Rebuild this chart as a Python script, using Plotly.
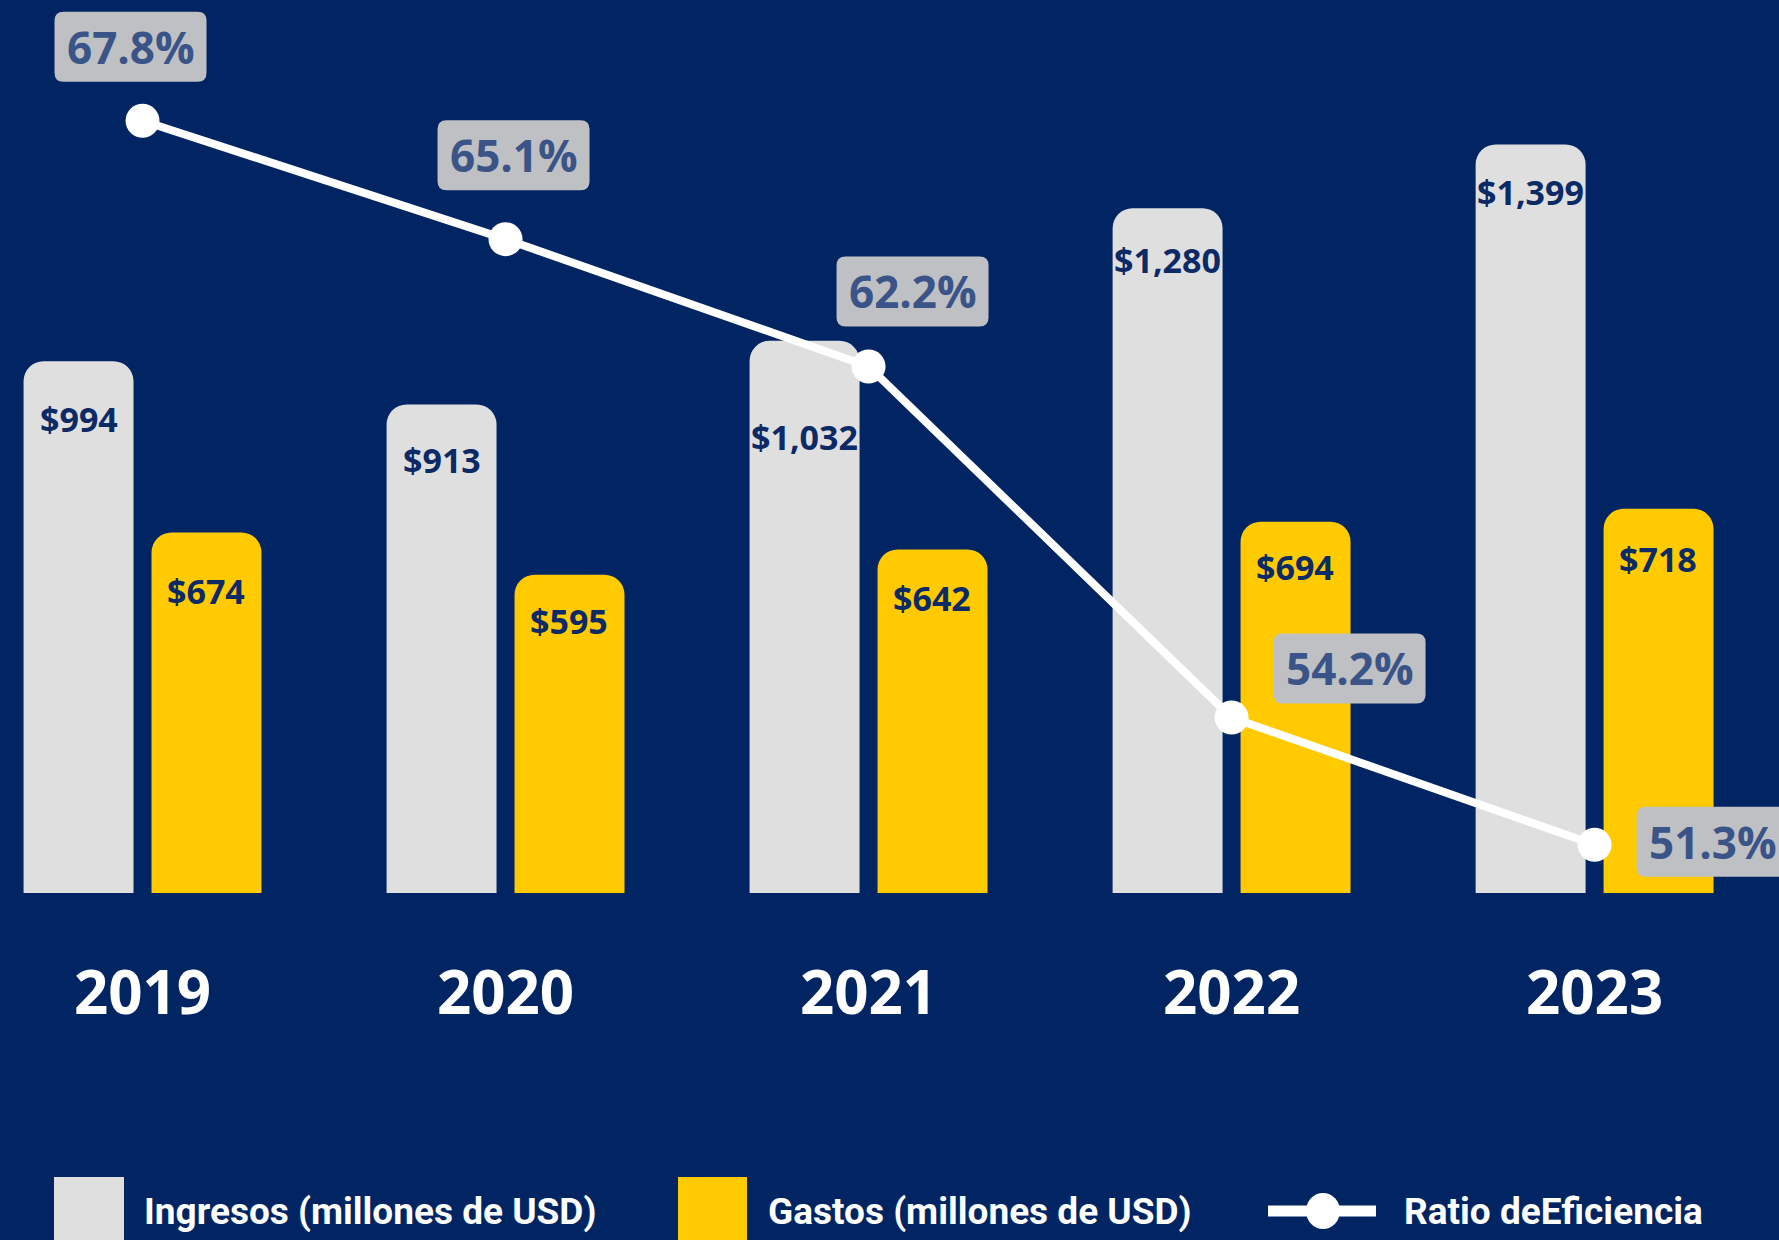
import plotly.graph_objects as go

# ---------------- data ----------------
years = ["2019", "2020", "2021", "2022", "2023"]
ingresos = [994, 913, 1032, 1280, 1399]
gastos = [674, 595, 642, 694, 718]
ratio = [67.8, 65.1, 62.2, 54.2, 51.3]

ingresos_labels = ["$994", "$913", "$1,032", "$1,280", "$1,399"]
gastos_labels = ["$674", "$595", "$642", "$694", "$718"]
ratio_labels = ["67.8%", "65.1%", "62.2%", "54.2%", "51.3%"]

legend_names = ["Ingresos (millones de USD)", "Gastos (millones de USD)", "Ratio deEficiencia"]

# ---------------- layout / style ----------------
W, H = 1779, 1240
PLOT_BOTTOM = 893
BG = "#012563"
GRAY = "#DFDFDF"
GOLD = "#FFCB00"
NAVY_TXT = "#0B2A66"
BOX = "#BEC0C3"
BOX_TXT = "#3B5488"
FONT = "Open Sans"
LEG_FONT = "Roboto"

# label offsets (pixels)
ing_label_dy = [-58, -55, -96, -52, -48]
gas_label_dy = [-59, -46, -48, -45, -50]
bar_dx = 63.75
box_dx = [-12, 8, 44, 118, 118]
box_dy = [74, 84, 75, 49, 3]
BOX_W, BOX_H, BOX_R = 152, 70, 9


def px_x(px):
    return px / W


def px_y(py):
    return (PLOT_BOTTOM - py) / PLOT_BOTTOM


def rounded_rect_path(cx, cy, w, h, r):
    l, rt, b, t = cx - w / 2, cx + w / 2, cy - h / 2, cy + h / 2
    return (f"M{l + r},{b} L{rt - r},{b} Q{rt},{b} {rt},{b + r} L{rt},{t - r} Q{rt},{t} {rt - r},{t} "
            f"L{l + r},{t} Q{l},{t} {l},{t - r} L{l},{b + r} Q{l},{b} {l + r},{b} Z")


fig = go.Figure()
fig.add_trace(go.Bar(x=years, y=ingresos, name=legend_names[0], marker_color=GRAY,
                     marker_line_width=0, hoverinfo="skip"))
fig.add_trace(go.Bar(x=years, y=gastos, name=legend_names[1], marker_color=GOLD,
                     marker_line_width=0, hoverinfo="skip"))
fig.add_trace(go.Scatter(x=years, y=ratio, name=legend_names[2], yaxis="y2", mode="lines+markers",
                         line=dict(color="white", width=8),
                         marker=dict(color="white", size=34), hoverinfo="skip"))

annotations = []
shapes = []

# bar value labels (category axis -> serial index)
for i, yr in enumerate(years):
    annotations.append(dict(x=i, y=ingresos[i], xref="x", yref="y", text=ingresos_labels[i],
                            showarrow=False, xshift=-bar_dx, yshift=ing_label_dy[i],
                            font=dict(family=FONT, size=34, color=NAVY_TXT, weight="bold")))
    annotations.append(dict(x=i, y=gastos[i], xref="x", yref="y", text=gastos_labels[i],
                            showarrow=False, xshift=bar_dx, yshift=gas_label_dy[i],
                            font=dict(family=FONT, size=34, color=NAVY_TXT, weight="bold")))

# ratio boxes
for i, yr in enumerate(years):
    shapes.append(dict(type="path", xref="x", yref="y2", xsizemode="pixel", ysizemode="pixel",
                       xanchor=i, yanchor=ratio[i],
                       path=rounded_rect_path(box_dx[i], box_dy[i], BOX_W, BOX_H, BOX_R),
                       fillcolor=BOX, line=dict(width=0), layer="above"))
    annotations.append(dict(x=i, y=ratio[i], xref="x", yref="y2", text=ratio_labels[i],
                            showarrow=False, xshift=box_dx[i], yshift=box_dy[i],
                            xanchor="center", yanchor="middle",
                            font=dict(family=FONT, size=44, color=BOX_TXT, weight="bold")))

# custom legend
LEG_Y = 1211
shapes.append(dict(type="rect", xref="paper", yref="paper", x0=px_x(54), x1=px_x(124),
                   y0=px_y(1177), y1=px_y(1260), fillcolor=GRAY, line=dict(width=0)))
shapes.append(dict(type="rect", xref="paper", yref="paper", x0=px_x(678), x1=px_x(747),
                   y0=px_y(1177), y1=px_y(1260), fillcolor=GOLD, line=dict(width=0)))
shapes.append(dict(type="line", xref="paper", yref="paper", x0=px_x(1268), x1=px_x(1376),
                   y0=px_y(LEG_Y), y1=px_y(LEG_Y), line=dict(color="white", width=11)))
shapes.append(dict(type="circle", xref="paper", yref="paper", xsizemode="pixel", ysizemode="pixel",
                   xanchor=px_x(1323), yanchor=px_y(LEG_Y), x0=-17, x1=17, y0=-18, y1=18,
                   fillcolor="white", line=dict(width=0)))
for name, x_left in zip(legend_names, [142, 766, 1402]):
    annotations.append(dict(x=px_x(x_left), y=px_y(LEG_Y), xref="paper", yref="paper", text=name,
                            showarrow=False, xanchor="left", yanchor="middle",
                            font=dict(family=LEG_FONT, size=37, color="white", weight="bold")))

fig.update_layout(
    width=W, height=H,
    paper_bgcolor=BG, plot_bgcolor=BG,
    margin=dict(l=0, r=0, t=0, b=H - PLOT_BOTTOM, pad=0),
    barmode="group", bargap=0.295, bargroupgap=0.1407, barcornerradius=20,
    showlegend=False,
    xaxis=dict(type="category", range=[-0.3926, 4.508], showgrid=False, zeroline=False,
               showline=False, ticks="", ticklabelstandoff=60,
               tickfont=dict(family=FONT, size=60, color="white", weight="bold")),
    yaxis=dict(range=[0, 1669], visible=False, showgrid=False, zeroline=False),
    yaxis2=dict(range=[50.20, 70.55], overlaying="y", visible=False, showgrid=False, zeroline=False),
    shapes=shapes, annotations=annotations,
)

fig.write_html("out.html", config={"displayModeBar": False},
               post_script="document.body.style.margin='0';document.body.style.overflow='hidden';")
